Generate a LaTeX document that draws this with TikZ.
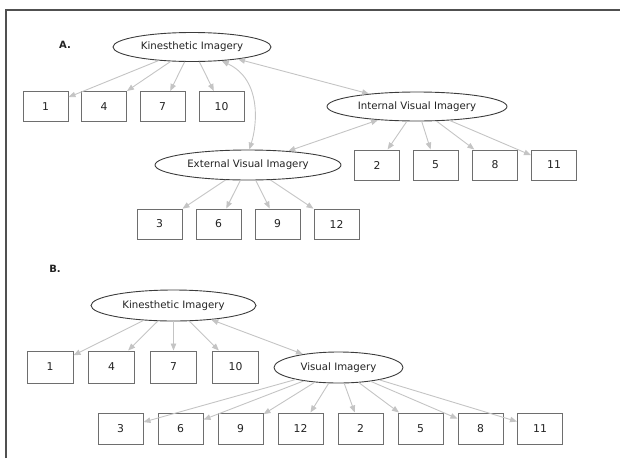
\documentclass[tikz,border=0pt]{standalone}
\usepackage{fontspec}
\setmainfont{DejaVu Sans}
\usetikzlibrary{shapes.geometric,arrows.meta}
\definecolor{edgegray}{HTML}{C4C4C4}
\definecolor{boxgray}{HTML}{6E6E6E}
\definecolor{ellgray}{HTML}{3C3C3C}
\definecolor{txt}{HTML}{222222}
\definecolor{framegray}{HTML}{505050}
\begin{document}
\begin{tikzpicture}[x=1pt,y=-1pt,
  oval/.style={ellipse,draw=ellgray,line width=0.9pt,inner sep=0pt,text=txt,font=\fontsize{10.2}{12}\selectfont},
  numbox/.style={draw=boxgray,line width=1pt,minimum width=45pt,minimum height=30pt,inner sep=0pt,text=txt,font=\fontsize{10.8}{12}\selectfont},
  link/.style={draw=edgegray,line width=0.9pt,-{Triangle[length=7pt,width=5.5pt]}},
  both/.style={draw=edgegray,line width=0.9pt,{Triangle[length=7pt,width=5.5pt]}-{Triangle[length=7pt,width=5.5pt]}},
  panel/.style={font=\bfseries\fontsize{10}{12}\selectfont,text=txt}]
\useasboundingbox (0,0) rectangle (620,458);
\draw[framegray,line width=1.3pt] (6,458) -- (6,10) -- (620,10);

% Panel A
\node[panel] (la) at (65,45) {A.};
\node[oval,minimum width=158pt,minimum height=29pt] (kinA) at (192,47) {Kinesthetic Imagery};
\node[oval,minimum width=180pt,minimum height=29pt] (intA) at (417,106.5) {Internal Visual Imagery};
\node[oval,minimum width=186pt,minimum height=30pt] (extA) at (248,165) {External Visual Imagery};

\node[numbox] (a1) at (45.5,106.5) {1};
\node[numbox] (a4) at (104,106.5) {4};
\node[numbox] (a7) at (162.5,106.5) {7};
\node[numbox] (a10) at (221.5,106.5) {10};

\node[numbox] (a2) at (377,165) {2};
\node[numbox] (a5) at (435.5,165) {5};
\node[numbox] (a8) at (495,165) {8};
\node[numbox] (a11) at (554,165) {11};

\node[numbox] (a3) at (159.5,224) {3};
\node[numbox] (a6) at (218.5,224) {6};
\node[numbox] (a9) at (277.5,224) {9};
\node[numbox] (a12) at (336.5,224) {12};

\foreach \t in {a1,a4,a7,a10} \draw[link] (kinA) -- (\t);
\foreach \t in {a2,a5,a8,a11} \draw[link] (intA) -- (\t);
\foreach \t in {a3,a6,a9,a12} \draw[link] (extA) -- (\t);
\draw[both] (kinA) -- (intA);
\draw[both] (intA) -- (extA);
\draw[both] (kinA.-25) .. controls (262,80) and (257,125) .. (extA.85);

% Panel B
\node[panel] (lb) at (55,268.5) {B.};
\node[oval,minimum width=165pt,minimum height=31pt] (kinB) at (173.5,305.5) {Kinesthetic Imagery};
\node[oval,minimum width=129pt,minimum height=31pt] (visB) at (338.5,367.5) {Visual Imagery};

\node[numbox,minimum width=46pt,minimum height=32pt] (b1) at (50,367) {1};
\node[numbox,minimum width=46pt,minimum height=32pt] (b4) at (111.5,367) {4};
\node[numbox,minimum width=46pt,minimum height=32pt] (b7) at (173.5,367) {7};
\node[numbox,minimum width=46pt,minimum height=32pt] (b10) at (235.5,367) {10};

\node[numbox,minimum height=31pt] (b3) at (120.5,428.5) {3};
\node[numbox,minimum height=31pt] (b6) at (180.5,428.5) {6};
\node[numbox,minimum height=31pt] (b9) at (240.5,428.5) {9};
\node[numbox,minimum height=31pt] (b12) at (300.5,428.5) {12};
\node[numbox,minimum height=31pt] (b2) at (360.5,428.5) {2};
\node[numbox,minimum height=31pt] (b5) at (420.5,428.5) {5};
\node[numbox,minimum height=31pt] (b8) at (480.5,428.5) {8};
\node[numbox,minimum height=31pt] (b11) at (540,428.5) {11};

\foreach \t in {b1,b4,b7,b10} \draw[link] (kinB) -- (\t);
\foreach \t in {b3,b6,b9,b12,b2,b5,b8,b11} \draw[link] (visB) -- (\t);
\draw[both] (kinB) -- (visB);
\end{tikzpicture}
\end{document}
